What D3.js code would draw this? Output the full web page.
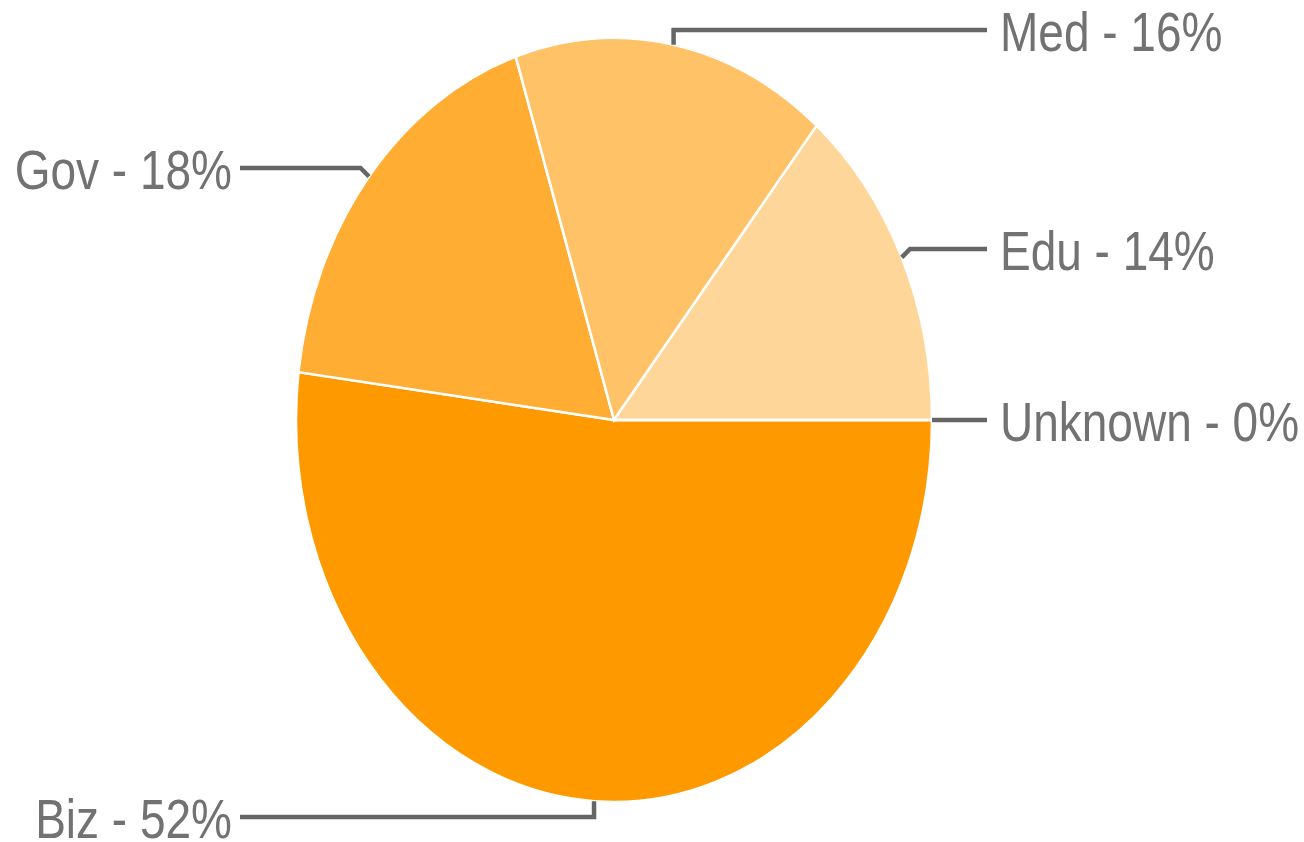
<!DOCTYPE html>
<html>
<head>
<meta charset="utf-8">
<script src="https://cdn.jsdelivr.net/npm/d3@7"></script>
<style>
  html, body { margin: 0; padding: 0; background: #fff; }
  svg { display: block; }
</style>
</head>
<body>
<svg id="chart" width="1304" height="842"></svg>
<script>
// ---- data ----
const categories = ["Biz", "Gov", "Med", "Edu", "Unknown"];
const values = [52, 18, 16, 14, 0];
const colors = ["#FF9900", "#FFAD33", "#FFC266", "#FFD699", "#FFE6C2"];

// ---- layout ----
const W = 1304, H = 842;
const cx = 614, cy = 420;
const rx = 318, ry = 382;
const k = ry / rx;
// label placement (line y for each label, side)
const labelLineY = [817, 168, 30, 249, 420];
const labelSide = ["left", "left", "right", "right", "right"];
const leftTextX = 232, leftLineX = 240;
const rightTextX = 1000, rightLineX = 987;

const svg = d3.select("#chart");

const pie = d3.pie()
  .sort(null)
  .value(d => d)
  .startAngle(Math.PI / 2)
  .endAngle(Math.PI / 2 + 2 * Math.PI);
const arcs = pie(values);

const arc = d3.arc().innerRadius(0).outerRadius(rx);

const g = svg.append("g")
  .attr("transform", `translate(${cx},${cy}) scale(1,${k})`);

g.selectAll("path")
  .data(arcs)
  .join("path")
  .attr("d", arc)
  .attr("fill", (d, i) => colors[i])
  .attr("stroke", "#fff")
  .attr("stroke-width", 2.5)
  .attr("vector-effect", "non-scaling-stroke");

// point on ellipse edge at d3 angle a (0 = top, clockwise)
function edgePoint(a) {
  return [cx + rx * Math.sin(a), cy - ry * Math.cos(a)];
}

const line = d3.line();
const total = d3.sum(values);

arcs.forEach((d, i) => {
  const mid = (d.startAngle + d.endAngle) / 2;
  const [ex, ey] = edgePoint(mid);
  const ly = labelLineY[i];
  const dy = Math.abs(ey - ly);
  const nearAxis = Math.abs(ex - cx) < 100;
  let pts;
  if (labelSide[i] === "left") {
    const elbowX = nearAxis ? ex : ex - dy;
    pts = [[leftLineX, ly], [elbowX, ly], [ex, ey]];
  } else {
    const elbowX = nearAxis ? ex : ex + dy;
    pts = [[ex, ey], [elbowX, ly], [rightLineX, ly]];
  }
  svg.append("path")
    .attr("d", line(pts))
    .attr("fill", "none")
    .attr("stroke", "#666")
    .attr("stroke-width", 4.5);

  const pct = Math.round(values[i] / total * 100);
  const tx = labelSide[i] === "left" ? leftTextX : rightTextX;
  svg.append("text")
    .attr("transform", `translate(${tx},${ly + 21}) scale(1,${k})`)
    .attr("text-anchor", labelSide[i] === "left" ? "end" : "start")
    .attr("font-family", "'Liberation Sans', Arial, sans-serif")
    .attr("font-size", 46)
    .attr("fill", "#727272")
    .text(`${categories[i]} - ${pct}%`);
});
</script>
</body>
</html>
